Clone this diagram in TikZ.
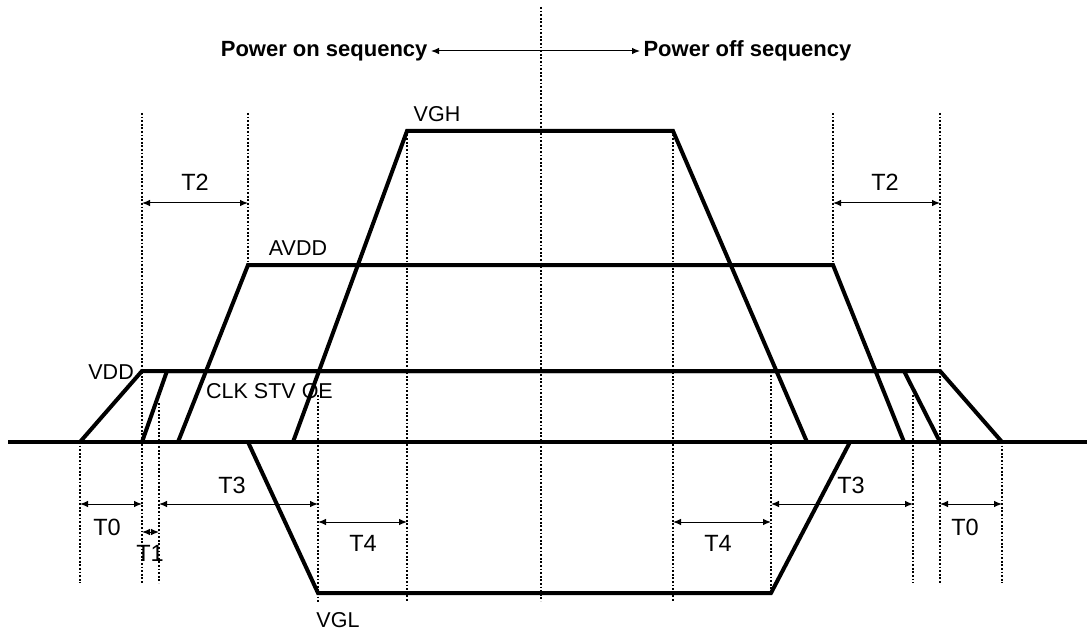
\documentclass[tikz,border=0pt]{standalone}
\usepackage{fontspec}
\setmainfont{Liberation Sans}
\usetikzlibrary{arrows.meta}

\begin{document}
\begin{tikzpicture}[
                    x=1pt, y=-1pt,
                    sig/.style={line width=4pt},
                    guide/.style={line width=1.8pt, dash pattern=on 1.8pt off 1.8pt},
                    span/.style={line width=1pt, {Latex[length=8pt,width=6.5pt]}-{Latex[length=8pt,width=6.5pt]}},
                    tlabel/.style={font=\fontsize{23.5}{26}\selectfont},
                    every node/.style={font=\fontsize{21.5}{24}\selectfont}
                ]
                  \useasboundingbox (0,0) rectangle (1087,631);
                  % heading
                  \node (on) [anchor=east, font=\fontsize{22}{24}\selectfont\bfseries] at (431,51) {Power on sequency};
                  \node (off) [anchor=west, font=\fontsize{22}{24}\selectfont\bfseries] at (640,51) {Power off sequency};
                  \draw [span] (on.east) -- (off.west);
                  % guides
                  \foreach \x/\a/\b in {80/442/583, 142/113/583, 159/403/583, 248/113/265,
                                        318/395/602, 407/131/602, 541/7/601, 673/131/602,
                                        771/375/593, 833/113/265, 913/395/583, 940/113/583, 1002/442/583}
                    \draw [guide] (\x,\a) -- (\x,\b);
                  % signals
                  \draw [sig] (8,442) -- (1087,442);
                  \draw [sig] (80,442) -- (142,371) -- (940,371) -- (1002,442);
                  \draw [sig] (142,442) -- (167,371) -- (904,371) -- (940,442);
                  \draw [sig] (178,442) -- (248,265) -- (833,265) -- (904,442);
                  \draw [sig] (293,442) -- (407,131) -- (673,131) -- (807,442);
                  \draw [sig] (248,442) -- (318,593) -- (771,593) -- (850,442);
                  % labels
                  \node (vgh) at (437,114) {VGH};
                  \node (avdd) at (298,248) {AVDD};
                  \node (vdd) [anchor=east, inner sep=0pt] at (134,372) {VDD};
                  \node (ctl) [anchor=west, inner sep=0pt] at (206,391) {CLK STV OE};
                  \node (vgl) at (338,620) {VGL};
                  % spans
                  \draw [span] (142,203) -- (248,203);
                  \node (t2a) [tlabel] at (195,182) {T2};
                  \draw [span] (833,203) -- (940,203);
                  \node (t2b) [tlabel] at (885,182) {T2};
                  \draw [span] (80,504) -- (142,504);
                  \node (t0a) [tlabel] at (107,527) {T0};
                  \draw [span] (940,504) -- (1002,504);
                  \node (t0b) [tlabel] at (965,527) {T0};
                  \draw [span] (142,532) -- (159,532);
                  \node (t1) [tlabel] at (150,553) {T1};
                  \draw [span] (159,504) -- (318,504);
                  \node (t3a) [tlabel] at (232,485) {T3};
                  \draw [span] (771,504) -- (913,504);
                  \node (t3b) [tlabel] at (851,485) {T3};
                  \draw [span] (318,522) -- (407,522);
                  \node (t4a) [tlabel] at (363,543) {T4};
                  \draw [span] (673,522) -- (771,522);
                  \node (t4b) [tlabel] at (718,543) {T4};
                \end{tikzpicture}
\end{document}
